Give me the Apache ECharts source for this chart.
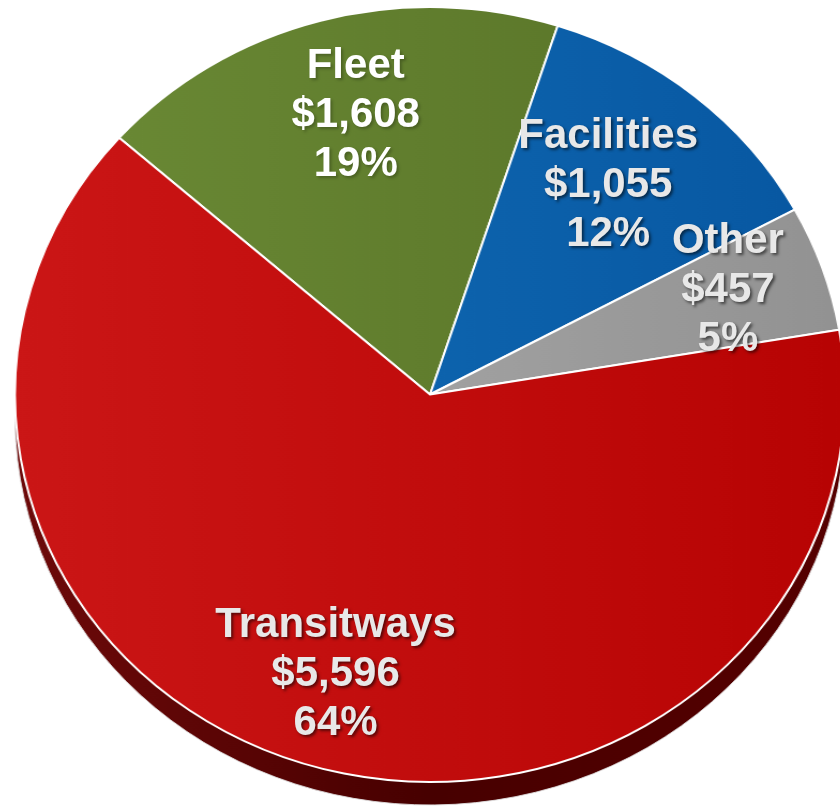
<!DOCTYPE html>
<html>
<head>
<meta charset="utf-8">
<title>Capital Program</title>
<script src="https://cdn.jsdelivr.net/npm/echarts@6/dist/echarts.min.js"></script>
<style>
  html, body { margin: 0; padding: 0; background: #ffffff; overflow: hidden; }
  #stage { position: relative; width: 840px; height: 808px; overflow: hidden; }
  /* the pie face is stretched sideways into a tilted ellipse */
  #shape { position: absolute; left: 0; top: 0; width: 840px; height: 808px;
           transform: scaleX(1.071); transform-origin: 430px 0; }
  #text  { position: absolute; left: 0; top: 0; width: 840px; height: 808px; }
</style>
</head>
<body>
<div id="stage">
  <div id="shape"></div>
  <div id="text"></div>
</div>
<script>
// Program budget by category ($ millions)
const categories = ['Fleet', 'Facilities', 'Other', 'Transitways'];
const amounts = [1608, 1055, 457, 5596];

// slice fills: [left, right] of a soft horizontal gradient
const sliceColors = [
  ['#698834', '#5d792b'],
  ['#0d63ad', '#0858a2'],
  ['#a1a1a1', '#929292'],
  ['#cb1616', '#b70303']
];
const labelColors = ['#ffffff', '#e8e8e8', '#e8e8e8', '#e8e8e8'];
// nudges that place each label block inside its slice
const labelShift = [[3, 20], [-9, 33], [21, 8], [-14, 15]];

const START = 138.5;

function grad(c) {
  return new echarts.graphic.LinearGradient(0, 0, 1, 0, [
    { offset: 0, color: c[0] },
    { offset: 1, color: c[1] }
  ]);
}

const total = amounts.reduce((a, b) => a + b, 0);

const shapeChart = echarts.init(document.getElementById('shape'), null, { renderer: 'canvas' });
shapeChart.setOption({
  animation: false,
  series: [
    {
      // side wall of the disc, visible below the face
      type: 'pie',
      silent: true,
      z: 1,
      center: [430, 417.5],
      radius: 387.5,
      startAngle: START,
      label: { show: false },
      labelLine: { show: false },
      itemStyle: { borderColor: 'rgba(225,225,225,0.9)', borderWidth: 1 },
      data: [{
        value: total,
        itemStyle: {
          color: new echarts.graphic.LinearGradient(0, 0, 1, 0, [
            { offset: 0, color: '#6e0a0a' },
            { offset: 0.5, color: '#470000' },
            { offset: 1, color: '#560000' }
          ])
        }
      }]
    },
    {
      type: 'pie',
      silent: true,
      z: 2,
      center: [430, 394.5],
      radius: 387.5,
      startAngle: START,
      clockwise: true,
      label: { show: false },
      labelLine: { show: false },
      itemStyle: { borderColor: '#ffffff', borderWidth: 2 },
      data: categories.map((name, i) => ({
        name: name,
        value: amounts[i],
        itemStyle: { color: grad(sliceColors[i]) }
      }))
    }
  ]
});

const textChart = echarts.init(document.getElementById('text'), null, { renderer: 'canvas' });
textChart.setOption({
  animation: false,
  series: [{
    type: 'pie',
    silent: true,
    center: [430, 378],
    radius: [0, 580],
    startAngle: START,
    clockwise: true,
    percentPrecision: 0,
    avoidLabelOverlap: false,
    itemStyle: { color: 'rgba(0,0,0,0)', borderWidth: 0 },
    labelLine: { show: false },
    label: {
      show: true,
      position: 'inside',
      fontFamily: 'Liberation Sans, Arial, sans-serif',
      fontWeight: 'bold',
      fontSize: 42,
      lineHeight: 49,
      align: 'center',
      textShadowColor: 'rgba(0,0,0,0.55)',
      textShadowBlur: 3,
      textShadowOffsetX: 2,
      textShadowOffsetY: 2,
      formatter: function (p) {
        return p.name + '\n$' + p.value.toLocaleString('en-US') + '\n' + p.percent + '%';
      }
    },
    labelLayout: function (p) {
      const s = labelShift[p.dataIndex];
      return { dx: s[0], dy: s[1] };
    },
    data: categories.map((name, i) => ({
      name: name,
      value: amounts[i],
      label: {
        color: labelColors[i],
        textShadowColor: i === 0 ? 'rgba(0,0,0,0.25)' : 'rgba(0,0,0,0.55)'
      }
    }))
  }]
});
</script>
</body>
</html>
